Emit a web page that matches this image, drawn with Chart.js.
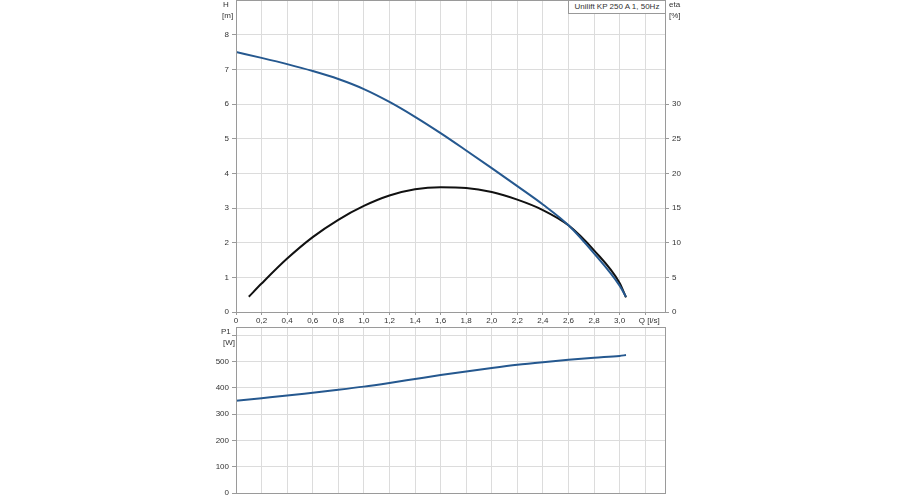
<!DOCTYPE html>
<html><head><meta charset="utf-8">
<script src="https://cdn.jsdelivr.net/npm/chart.js@4"></script>
<style>
html,body{margin:0;padding:0;background:#fff;width:900px;height:500px;overflow:hidden;}
#cTop{position:absolute;left:0;top:0;}
#cBot{position:absolute;left:0;top:320px;}
.lbl{position:absolute;font:8px "Liberation Sans",Arial,sans-serif;color:#333;white-space:nowrap;line-height:10px;}
#ttl{position:absolute;left:568px;top:0;width:96px;height:12px;border:1px solid #999;background:#fff;font:8px "Liberation Sans",Arial,sans-serif;color:#333;line-height:12px;text-align:center;}
</style></head><body>
<canvas id="cTop" width="900" height="330"></canvas>
<canvas id="cBot" width="900" height="180"></canvas>
<div class="lbl" style="left:223px;top:0px;">H</div>
<div class="lbl" style="left:222px;top:11px;">[m]</div>
<div class="lbl" style="left:669px;top:0px;">eta</div>
<div class="lbl" style="left:669px;top:11px;">[%]</div>
<div class="lbl" style="left:221px;top:327px;">P1</div>
<div class="lbl" style="left:223px;top:338px;">[W]</div>
<div id="ttl">Unilift KP 250 A 1, 50Hz</div>
<script>
// ---- data ----
const qHead = [0, 0.2, 0.4, 0.6, 0.8, 1.0, 1.2, 1.4, 1.6, 1.8, 2.0, 2.2, 2.4, 2.6, 2.8, 3.0, 3.05];
const headH = [7.5, 7.33, 7.15, 6.95, 6.72, 6.43, 6.06, 5.63, 5.16, 4.66, 4.15, 3.63, 3.1, 2.5, 1.69, 0.76, 0.44];
const qEta = [0.1, 0.2, 0.4, 0.6, 0.8, 1.0, 1.2, 1.4, 1.6, 1.8, 2.0, 2.2, 2.4, 2.6, 2.8, 3.0, 3.05];
const etaPct = [2.2, 4.1, 7.7, 10.8, 13.3, 15.3, 16.8, 17.7, 18.0, 17.9, 17.3, 16.2, 14.7, 12.5, 8.9, 4.2, 2.1];
const qPower = [0, 0.2, 0.4, 0.6, 0.8, 1.0, 1.2, 1.4, 1.6, 1.8, 2.0, 2.2, 2.4, 2.6, 2.8, 3.0, 3.05];
const powerW = [351, 361, 371, 382, 393, 405, 419, 434, 449, 463, 476, 488, 498, 507, 515, 522, 525];
const qTicks = [0, 0.2, 0.4, 0.6, 0.8, 1.0, 1.2, 1.4, 1.6, 1.8, 2.0, 2.2, 2.4, 2.6, 2.8, 3.0, 3.2];
const hTicks = [0, 1, 2, 3, 4, 5, 6, 7, 8];
const etaTicks = [0, 5, 10, 15, 20, 25, 30];
const pTicks = [0, 100, 200, 300, 400, 500, 600];
const qUnitLabel = '\u2003Q [l/s]';

const FONT = {family: '"Liberation Sans", Arial, sans-serif', size: 8};
const TXT = '#333';
const GRID = '#dcdcdc';
const BORDER = '#9a9a9a';
const BLUE = '#25588f';

function pts(xs, ys) { return xs.map((x, i) => ({x: x, y: ys[i]})); }
function setTicks(arr) { return function(s) { s.ticks = arr.map(v => ({value: v})); }; }
function fmtQ(v) { if (v === 3.2) return qUnitLabel; if (v === 0) return '0'; return v.toFixed(1).replace('.', ','); }
function fixW(w) { return s => { s.width = w; s.paddingTop = 0; s.paddingBottom = 0; s.paddingLeft = 0; s.paddingRight = 0; }; }
function fixH(h) { return s => { s.height = h; s.paddingTop = 0; s.paddingBottom = 0; s.paddingLeft = 0; s.paddingRight = 0; }; }

Chart.defaults.font = FONT;
Chart.defaults.color = TXT;

const lineBase = {borderWidth: 2, pointRadius: 0, cubicInterpolationMode: 'monotone', fill: false};

new Chart(document.getElementById('cTop'), {
  type: 'line',
  data: {datasets: [
    Object.assign({data: pts(qHead, headH), yAxisID: 'yH', borderColor: BLUE}, lineBase),
    Object.assign({data: pts(qEta, etaPct), yAxisID: 'yEta', borderColor: '#111'}, lineBase)
  ]},
  options: {
    responsive: false, animation: false,
    layout: {padding: {top: 0, left: 0, right: 0, bottom: 0}},
    plugins: {legend: {display: false}, tooltip: {enabled: false}},
    scales: {
      x: {type: 'linear', min: 0, max: 3.355,
        afterBuildTicks: setTicks(qTicks),
        afterFit: fixH(18),
        grid: {color: GRID, tickColor: BORDER, tickLength: 3},
        border: {color: BORDER},
        ticks: {callback: v => fmtQ(v), maxRotation: 0, autoSkip: false, padding: 1, font: FONT, color: TXT}},
      yH: {type: 'linear', position: 'left', min: 0, max: 9,
        afterBuildTicks: setTicks(hTicks),
        afterFit: fixW(236),
        grid: {color: GRID, tickColor: BORDER, tickLength: 4},
        border: {color: BORDER},
        ticks: {padding: 3, font: FONT, color: TXT}},
      yEta: {type: 'linear', position: 'right', min: 0, max: 45,
        afterBuildTicks: setTicks(etaTicks),
        afterFit: fixW(235),
        grid: {drawOnChartArea: false, tickColor: BORDER, tickLength: 4},
        border: {color: BORDER},
        ticks: {padding: 3, font: FONT, color: TXT}}
    }
  },
  plugins: [{id: 'frame', afterDraw(c) {
    const a = c.chartArea, g = c.ctx;
    g.save(); g.strokeStyle = BORDER; g.lineWidth = 1;
    g.strokeRect(a.left + 0.5, a.top + 0.5, a.right - a.left, a.bottom - a.top);
    g.restore();
  }}]
});

new Chart(document.getElementById('cBot'), {
  type: 'line',
  data: {datasets: [
    Object.assign({data: pts(qPower, powerW), borderColor: BLUE}, lineBase)
  ]},
  options: {
    responsive: false, animation: false,
    layout: {padding: {top: 7, left: 0, right: 0, bottom: 0}},
    plugins: {legend: {display: false}, tooltip: {enabled: false}},
    scales: {
      x: {type: 'linear', min: 0, max: 3.355,
        afterBuildTicks: setTicks(qTicks),
        afterFit: fixH(7),
        grid: {color: GRID, drawTicks: false},
        border: {color: BORDER},
        ticks: {display: false}},
      y: {type: 'linear', position: 'left', min: 0, max: 632,
        afterBuildTicks: setTicks(pTicks),
        afterFit: fixW(236),
        grid: {color: GRID, tickColor: BORDER, tickLength: 4},
        border: {color: BORDER},
        ticks: {padding: 3, font: FONT, color: TXT, callback: v => (v === 600 ? '' : String(v))}},
      yR: {type: 'linear', position: 'right', min: 0, max: 632, display: true,
        afterFit: fixW(235),
        grid: {drawOnChartArea: false, drawTicks: false},
        border: {color: BORDER},
        ticks: {display: false}}
    }
  },
  plugins: [{id: 'frame2', afterDraw(c) {
    const a = c.chartArea, g = c.ctx;
    g.save(); g.strokeStyle = BORDER; g.lineWidth = 1;
    g.strokeRect(a.left + 0.5, a.top + 0.5, a.right - a.left, a.bottom - a.top);
    g.restore();
  }}]
});
</script>
</body></html>
